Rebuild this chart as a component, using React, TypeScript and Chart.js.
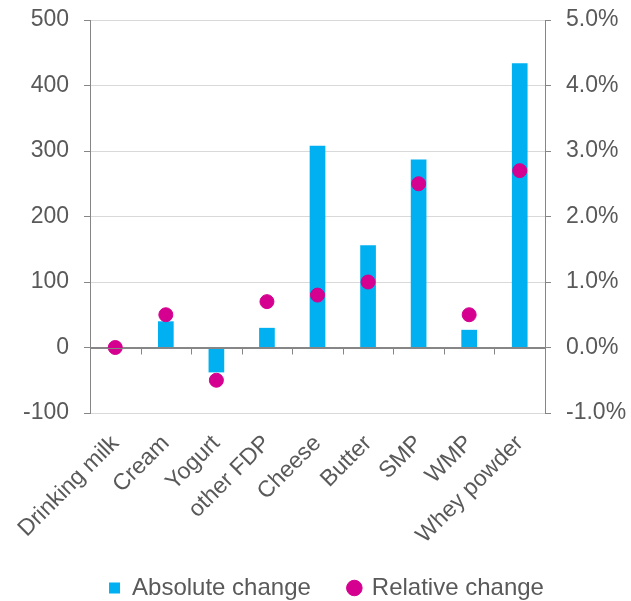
import React, { useEffect, useRef } from "react";
import { Chart, registerables } from "chart.js";

Chart.register(...registerables);

const categories = ["Drinking milk", "Cream", "Yogurt", "other FDP", "Cheese", "Butter", "SMP", "WMP", "Whey powder"];
const absoluteChange = [0, 40, -38, 30, 308, 156, 287, 27, 434];
const relativeChange = [0.0, 0.5, -0.5, 0.7, 0.8, 1.0, 2.5, 0.5, 2.7];

const FONT = "'Liberation Sans', Arial, sans-serif";
const TEXT = "#595959";
const AXIS = "#868686";
const GRID = "#D9D9D9";
const LEGEND_FONT = 24;
const LEGEND_PAD = 38;

const zeroLinePlugin = {
  id: "zeroLine",
  afterDatasetsDraw(chart: any) {
    const { ctx, chartArea, scales } = chart;
    const y = Math.round(scales.y.getPixelForValue(0)) + 0.5;
    ctx.save();
    ctx.strokeStyle = AXIS;
    ctx.lineWidth = 1;
    ctx.beginPath();
    ctx.moveTo(chartArea.left, y);
    ctx.lineTo(chartArea.right, y);
    const n = categories.length;
    const w = (chartArea.right - chartArea.left) / n;
    for (let i = 1; i < n; i++) {
      const xx = Math.round(chartArea.left + i * w) + 0.5;
      ctx.moveTo(xx, y);
      ctx.lineTo(xx, y + 6);
    }
    ctx.stroke();
    ctx.restore();
  },
};

const legendShiftPlugin = {
  id: "legendShift",
  beforeDraw(chart: any) {
    const lg = chart.legend;
    if (lg) {
      const h = lg.height;
      lg.top = 588 - LEGEND_PAD - LEGEND_FONT / 2;
      lg.bottom = lg.top + h;
      const w = lg.width;
      lg.left = 11;
      lg.right = lg.left + w;
    }
    const xs = chart.scales.x;
    if (xs) {
      xs.bottom = chart.height;
      xs.height = xs.bottom - xs.top;
    }
  },
};

const noVPad = (s: any, w: number) => {
  s.width = w;
  s.paddingTop = 0;
  s.paddingBottom = 0;
};

export default function App() {
  const ref = useRef<HTMLCanvasElement>(null);
  useEffect(() => {
    if (!ref.current) return;
    const chart = new Chart(ref.current, {
      type: "bar",
      data: {
        labels: categories,
        datasets: [
          {
            type: "bar",
            label: "Absolute change",
            data: absoluteChange,
            backgroundColor: "#00B0F0",
            categoryPercentage: 1,
            barPercentage: 0.31,
            yAxisID: "y",
            order: 1,
            pointStyle: "rect",
          } as any,
          {
            type: "line",
            label: "Relative change",
            data: relativeChange,
            showLine: false,
            pointRadius: 7,
            pointHoverRadius: 7,
            pointBackgroundColor: "#D5008F",
            pointBorderColor: "#D5008F",
            backgroundColor: "#D5008F",
            borderColor: "#D5008F",
            pointStyle: "circle",
            yAxisID: "y1",
            order: 0,
          } as any,
        ],
      },
      options: {
        animation: false,
        responsive: true,
        maintainAspectRatio: false,
        layout: { padding: { top: 20, left: 0, right: 0, bottom: 0 } },
        plugins: {
          tooltip: { enabled: false },
          legend: {
            position: "bottom",
            labels: {
              usePointStyle: true,
              boxWidth: 11,
              boxHeight: 11,
              padding: LEGEND_PAD,
              color: TEXT,
              font: { family: FONT, size: LEGEND_FONT },
              sort: (a: any, b: any) => a.datasetIndex - b.datasetIndex,
            },
          },
        },
        scales: {
          x: {
            grid: { display: false, drawTicks: false },
            border: { display: false },
            ticks: {
              color: TEXT,
              font: { family: FONT, size: 23 },
              minRotation: 45,
              maxRotation: 45,
              padding: 17,
              autoSkip: false,
            },
            afterFit: (s: any) => {
              s.height = 116;
            },
          },
          y: {
            position: "left",
            min: -100,
            max: 500,
            ticks: {
              stepSize: 100,
              color: TEXT,
              font: { family: FONT, size: 23 },
              padding: 15,
            },
            grid: {
              color: (c: any) => (c.tick && c.tick.value === 0 ? AXIS : GRID),
              tickColor: AXIS,
              tickLength: 6,
            },
            border: { color: AXIS, width: 1 },
            afterFit: (s: any) => noVPad(s, 90),
          },
          y1: {
            position: "right",
            min: -1,
            max: 5,
            ticks: {
              stepSize: 1,
              color: TEXT,
              font: { family: FONT, size: 23 },
              padding: 15,
              callback: (v: any) => Number(v).toFixed(1) + "%",
            },
            grid: { drawOnChartArea: false, tickColor: AXIS, tickLength: 6 },
            border: { color: AXIS, width: 1 },
            afterFit: (s: any) => noVPad(s, 86),
          },
        },
      },
      plugins: [zeroLinePlugin, legendShiftPlugin],
    });
    return () => chart.destroy();
  }, []);
  return (
    <div style={{ position: "fixed", left: 0, top: 0, width: 631, height: 601 }}>
      <canvas ref={ref} />
    </div>
  );
}
